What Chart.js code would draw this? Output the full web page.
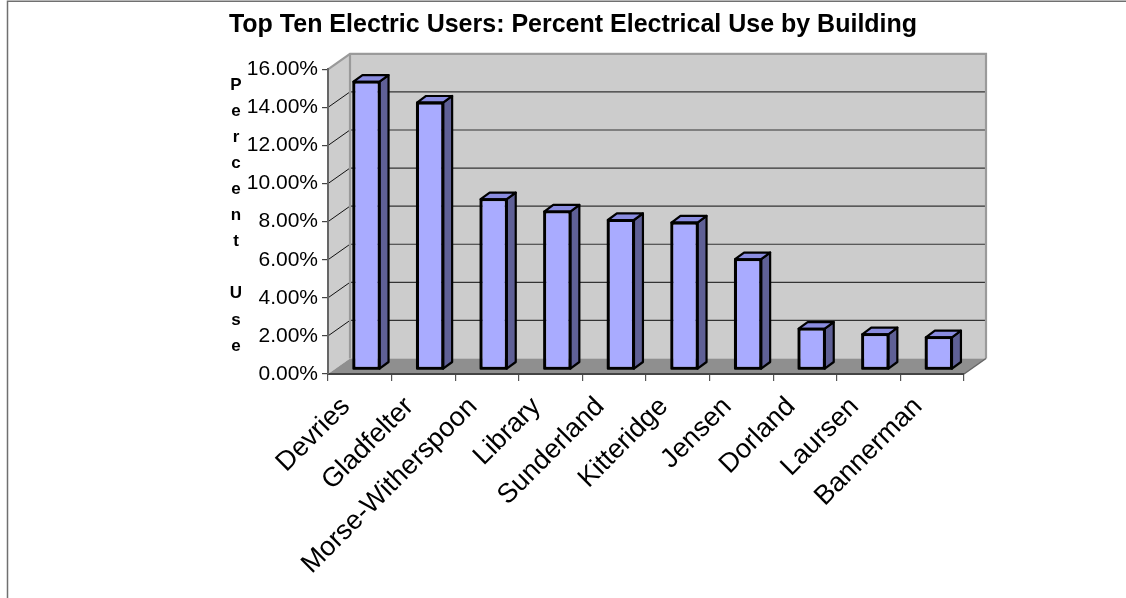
<!DOCTYPE html>
<html><head><meta charset="utf-8">
<script src="https://cdn.jsdelivr.net/npm/chart.js@4.4.1/dist/chart.umd.min.js"></script>
<style>html,body{margin:0;padding:0;background:#fff;overflow:hidden}</style>
</head><body>
<canvas id="c" width="1126" height="598"></canvas>
<script>
const categories = ['Devries','Gladfelter','Morse-Witherspoon','Library','Sunderland','Kitteridge','Jensen','Dorland','Laursen','Bannerman'];
const percentUse = [15.10, 14.00, 8.93, 8.28, 7.84, 7.70, 5.78, 2.13, 1.84, 1.68];
const yMin = 0, yMax = 16, yStep = 2;
const chartTitle = 'Top Ten Electric Users: Percent Electrical Use by Building';
const yAxisTitle = 'Percent Use';

// 3D look (style only)
const WALL_DX = 22, WALL_DY = -15.5;
const BAR_SHIFT_X = 6.7, BAR_SHIFT_Y = -4.7;
const BAR_DX = 9, BAR_DY = -6.7;

function poly(ctx, pts){ ctx.beginPath(); ctx.moveTo(pts[0][0],pts[0][1]); for(let i=1;i<pts.length;i++) ctx.lineTo(pts[i][0],pts[i][1]); ctx.closePath(); }

const threeD = {
  id: 'threeD',
  beforeDraw(chart){
    const ctx = chart.ctx, {left,right} = chart.chartArea;
    const y = chart.scales.y;
    const yTop = y.getPixelForValue(y.max), yBot = y.getPixelForValue(y.min);
    ctx.save();
    ctx.fillStyle = '#fff'; ctx.fillRect(0,0,chart.width,chart.height);
    ctx.strokeStyle = '#707070'; ctx.lineWidth = 1.5;
    ctx.beginPath(); ctx.moveTo(7.5, chart.height); ctx.lineTo(7.5, 1.2); ctx.lineTo(chart.width, 1.2); ctx.stroke();
    ctx.fillStyle = '#cccccc';
    ctx.fillRect(left+WALL_DX, yTop+WALL_DY, right-left, yBot-yTop);
    ctx.fillStyle = '#cdcdcd';
    poly(ctx, [[left,yTop],[left+WALL_DX,yTop+WALL_DY],[left+WALL_DX,yBot+WALL_DY],[left,yBot]]); ctx.fill();
    ctx.fillStyle = '#8f8f8f';
    poly(ctx, [[left,yBot],[left+WALL_DX,yBot+WALL_DY],[right+WALL_DX,yBot+WALL_DY],[right,yBot]]); ctx.fill();
    y.ticks.forEach(t => {
      if (t.value === y.min || t.value === y.max) return;
      const p = y.getPixelForValue(t.value);
      ctx.strokeStyle = '#333'; ctx.lineWidth = 1.2;
      ctx.beginPath(); ctx.moveTo(left+WALL_DX, p+WALL_DY); ctx.lineTo(right+WALL_DX, p+WALL_DY); ctx.stroke();
      ctx.strokeStyle = '#111'; ctx.lineWidth = 1;
      ctx.beginPath(); ctx.moveTo(left, p); ctx.lineTo(left+WALL_DX, p+WALL_DY); ctx.stroke();
    });
    ctx.strokeStyle = '#9a9a9a'; ctx.lineWidth = 2.2;
    ctx.beginPath();
    ctx.moveTo(left, yTop); ctx.lineTo(left+WALL_DX, yTop+WALL_DY); ctx.lineTo(right+WALL_DX, yTop+WALL_DY);
    ctx.lineTo(right+WALL_DX, yBot+WALL_DY);
    ctx.moveTo(left+WALL_DX, yTop+WALL_DY); ctx.lineTo(left+WALL_DX, yBot+WALL_DY);
    ctx.stroke();
    ctx.strokeStyle = '#666'; ctx.lineWidth = 1.5;
    ctx.beginPath(); ctx.moveTo(right, yBot); ctx.lineTo(right+WALL_DX, yBot+WALL_DY); ctx.stroke();
    ctx.restore();
  },
  beforeDatasetsDraw(chart){ chart.ctx.save(); chart.ctx.translate(BAR_SHIFT_X, BAR_SHIFT_Y); },
  afterDatasetsDraw(chart){
    const ctx = chart.ctx;
    ctx.lineJoin = 'round';
    chart.getDatasetMeta(0).data.forEach(bar => {
      const {x, y, base, width} = bar.getProps(['x','y','base','width'], true);
      const l = x - width/2, r = x + width/2;
      ctx.lineWidth = 2.2; ctx.strokeStyle = '#000';
      ctx.fillStyle = '#5f6096';
      poly(ctx, [[r,y],[r+BAR_DX,y+BAR_DY],[r+BAR_DX,base+BAR_DY],[r,base]]); ctx.fill(); ctx.stroke();
      ctx.fillStyle = '#8a8ce0';
      poly(ctx, [[l,y],[l+BAR_DX,y+BAR_DY],[r+BAR_DX,y+BAR_DY],[r,y]]); ctx.fill(); ctx.stroke();
      ctx.strokeRect(l, y, width, base - y);
    });
    ctx.restore();
  },
  afterDraw(chart){
    const ctx = chart.ctx;
    ctx.save();
    ctx.font = 'bold 17px Arial'; ctx.fillStyle = '#000'; ctx.textAlign = 'center'; ctx.textBaseline = 'middle';
    const letters = yAxisTitle.split('');
    letters.forEach((ch, i) => { if (ch.trim()) ctx.fillText(ch, 236, 85 + i*26.1); });
    ctx.restore();
  }
};

new Chart(document.getElementById('c'), {
  type: 'bar',
  data: {
    labels: categories,
    datasets: [{
      data: percentUse,
      backgroundColor: '#a9abff',
      borderColor: '#000',
      borderWidth: 2,
      borderSkipped: false,
      categoryPercentage: 1,
      barPercentage: 0.41,
      clip: false
    }]
  },
  options: {
    responsive: false,
    animation: false,
    devicePixelRatio: 1,
    layout: { padding: { left: 20, right: 0, top: 0, bottom: 0 } },
    plugins: {
      legend: { display: false },
      tooltip: { enabled: false },
      title: {
        display: true, text: chartTitle, color: '#000',
        font: { family: 'Arial', size: 25, weight: 'bold' },
        padding: { top: 10, bottom: 29.3 }
      }
    },
    scales: {
      x: {
        type: 'category',
        grid: { offset: true, drawOnChartArea: false, drawTicks: true, tickLength: 7, color: '#555', lineWidth: 1.2 },
        border: { display: true, color: '#444', width: 2 },
        ticks: { color: '#000', font: { family: 'Arial', size: 27 }, minRotation: 45, maxRotation: 45, autoSkip: false, padding: 10, labelOffset: -14 },
        afterFit: s => { s.height = 224; }
      },
      y: {
        type: 'linear', min: yMin, max: yMax,
        grid: { drawOnChartArea: false, drawTicks: true, tickLength: 6, color: '#444', lineWidth: 1.2 },
        border: { display: true, color: '#666', width: 2 },
        ticks: { stepSize: yStep, color: '#000', font: { family: 'Arial', size: 21 }, padding: 4, callback: v => v.toFixed(2) + '%' },
        afterFit: s => { s.width = 308; }
      },
      yRight: {
        type: 'linear', position: 'right', min: 0, max: 1, display: true,
        grid: { display: false }, border: { display: false }, ticks: { display: false },
        afterFit: s => { s.width = 162; }
      }
    }
  },
  plugins: [threeD]
});
</script>
</body></html>
